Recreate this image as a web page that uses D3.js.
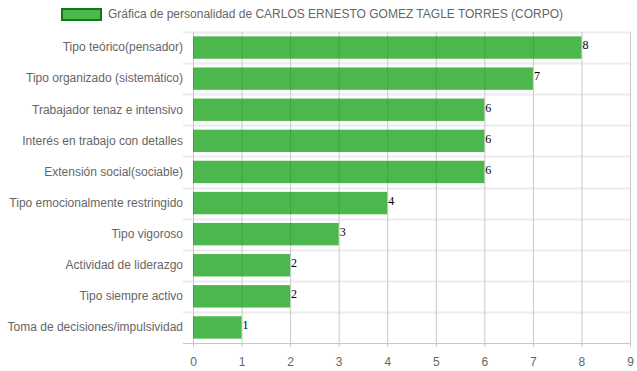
<!DOCTYPE html>
<html>
<head>
<meta charset="utf-8">
<script src="https://cdn.jsdelivr.net/npm/d3@7"></script>
<style>
    body { margin: 0; background: #fff; }
    svg { display: block; font-family: "Liberation Sans", Arial, sans-serif; }
</style>
</head>
<body>
<script>
// chart data
const categories = [
    "Tipo teórico(pensador)",
    "Tipo organizado (sistemático)",
    "Trabajador tenaz e intensivo",
    "Interés en trabajo con detalles",
    "Extensión social(sociable)",
    "Tipo emocionalmente restringido",
    "Tipo vigoroso",
    "Actividad de liderazgo",
    "Tipo siempre activo",
    "Toma de decisiones/impulsividad"
];
const values = [8, 7, 6, 6, 6, 4, 3, 2, 2, 1];
const xTicks = [0, 1, 2, 3, 4, 5, 6, 7, 8, 9];
const legendLabel = "Gráfica de personalidad de CARLOS ERNESTO GOMEZ TAGLE TORRES (CORPO)";

const width = 637, height = 371;
const plot = { left: 193, right: 630, top: 32, bottom: 343 };

let svg = d3.select("body").append("svg")
    .attr("width", width)
    .attr("height", height);

let x = d3.scaleLinear()
    .domain([0, 9])
    .range([plot.left, plot.right]);

// one row per category, bar takes 0.8 * 0.9 of the row
let yRow = d3.scaleBand()
    .domain(categories)
    .range([plot.top, plot.bottom])
    .padding(0);
let yBar = d3.scaleBand()
    .domain(categories)
    .range([plot.top, plot.bottom])
    .paddingInner(0.28)
    .paddingOuter(0.14);

// horizontal grid lines between categories
svg.append("g")
    .selectAll("line")
    .data(categories)
    .join("line")
    .attr("x1", plot.left - 10)
    .attr("x2", plot.right)
    .attr("y1", d => Math.round(yRow(d)) + 0.5)
    .attr("y2", d => Math.round(yRow(d)) + 0.5)
    .attr("stroke", "#ececec")
    .attr("stroke-width", 2);

// vertical grid + x axis
let xAxis = svg.append("g")
    .attr("transform", "translate(0," + plot.bottom + ")")
    .call(d3.axisBottom(x).tickValues(xTicks).tickSizeOuter(0).tickPadding(8));
xAxis.select(".domain").remove();
xAxis.selectAll(".tick line")
    .attr("y1", 4)
    .attr("y2", -(plot.bottom - plot.top))
    .attr("stroke", "#c8c8c8");
xAxis.selectAll(".tick text")
    .attr("fill", "#666")
    .style("font-size", "12px")
    .style("font-family", "'Liberation Sans', Arial, sans-serif");

// bottom axis line
svg.append("line")
    .attr("x1", plot.left - 10)
    .attr("x2", plot.right)
    .attr("y1", plot.bottom + 0.5)
    .attr("y2", plot.bottom + 0.5)
    .attr("stroke", "#c8c8c8");

// bars
svg.append("g")
    .selectAll("rect")
    .data(values)
    .join("rect")
    .attr("x", x(0))
    .attr("y", (d, i) => yBar(categories[i]))
    .attr("width", d => x(d) - x(0))
    .attr("height", yBar.bandwidth())
    .attr("fill", "rgba(0,153,0,0.7)");

// value labels at bar ends
svg.append("g")
    .selectAll("text")
    .data(values)
    .join("text")
    .attr("x", d => x(d) + 1)
    .attr("y", (d, i) => yBar(categories[i]) + yBar.bandwidth() / 2 - 1)
    .attr("dominant-baseline", "middle")
    .style("font-family", "'Liberation Serif', 'Times New Roman', serif")
    .style("font-size", "12px")
    .attr("fill", "#000")
    .text(d => d);

// category labels
let yAxis = svg.append("g")
    .attr("transform", "translate(" + plot.left + ",0)")
    .call(d3.axisLeft(yRow).tickSize(0).tickPadding(10));
yAxis.select(".domain").remove();
yAxis.selectAll(".tick text")
    .attr("fill", "#666")
    .style("font-size", "12px")
    .style("font-family", "'Liberation Sans', Arial, sans-serif");

// legend
let legend = svg.append("g");
legend.append("rect")
    .attr("x", 62)
    .attr("y", 9)
    .attr("width", 39)
    .attr("height", 11)
    .attr("fill", "rgba(0,153,0,0.7)")
    .attr("stroke", "#0a7d0a")
    .attr("stroke-width", 2);
legend.append("text")
    .attr("x", 108)
    .attr("y", 15)
    .attr("dominant-baseline", "middle")
    .attr("fill", "#666")
    .style("font-size", "12px")
    .text(legendLabel);
</script>
</body>
</html>
